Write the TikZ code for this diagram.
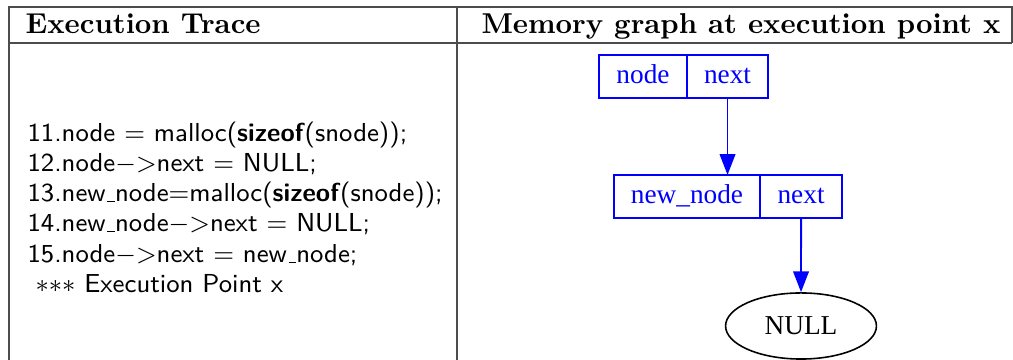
\documentclass[tikz,border=0pt]{standalone}
\usepackage{fontspec}
\newfontfamily\graphfont{Liberation Serif}
\usetikzlibrary{arrows.meta, shapes.geometric, positioning, calc}
\newcommand{\usbar}{\leavevmode\kern.06em\vbox{\hrule width.3em}}

\begin{document}
\begin{tikzpicture}[x=0.348pt,y=-0.348pt,node distance=0pt,>={Triangle[length=7.2pt,width=5.4pt]},
  rule/.style={draw=black!70,line width=0.6pt},
  head/.style={anchor=base west,inner sep=0pt,font=\bfseries},
  code/.style={anchor=base west,inner sep=0pt,font=\sffamily\fontsize{9.05}{10.5}\selectfont},
  field/.style={draw=blue,text=blue,line width=0.6pt,outer sep=0pt,inner xsep=6pt,inner ysep=0pt,minimum height=15pt,text height=6.6pt,text depth=1.9pt,font=\graphfont\fontsize{9.5}{11}\selectfont},
  ptr/.style={->,draw=blue,line width=0.65pt}]
\useasboundingbox (0,0) rectangle (1013,360);
% table frame
\draw[rule] (9,360) -- (9,7) -- (1012,7) -- (1012,43);
\draw[rule] (9,43) -- (1012,43);
\draw[rule] (457,7) -- (457,360);
\node[head] (htrace) at (25,34) {Execution Trace};
\node[head] (hgraph) at (481,34) {Memory graph at execution point x};
% execution trace
\node[code] (l11) at (27,142) {11.node = malloc(\textbf{sizeof}(snode));};
\node[code] (l12) at (27,172) {12.node$-{>}$next = NULL;};
\node[code] (l13) at (27,202) {13.new\usbar node=malloc(\textbf{sizeof}(snode));};
\node[code] (l14) at (27,232) {14.new\usbar node$-{>}$next = NULL;};
\node[code] (l15) at (27,263) {15.node$-{>}$next = new\usbar node;};
\node[code] (lx) at (35,293) {${*}{*}{*}$ Execution Point x};
% memory graph
\node[field] (headval) at (643,76.5) {node};
\node[field,right=of headval] (headnext) {next};
\node[field] (newval) at (687,196.5) {new\_node};
\node[field,right=of newval] (newnext) {next};
\node[ellipse,draw,line width=0.55pt,minimum width=52.5pt,minimum height=23pt,inner sep=0pt,font=\graphfont\fontsize{9.5}{11}\selectfont] (null) at (801,326) {NULL};
\draw[ptr] (headnext.south) -- (headnext.south |- newval.north);
\draw[ptr] (newnext.south) -- (null.north);
\end{tikzpicture}
\end{document}
